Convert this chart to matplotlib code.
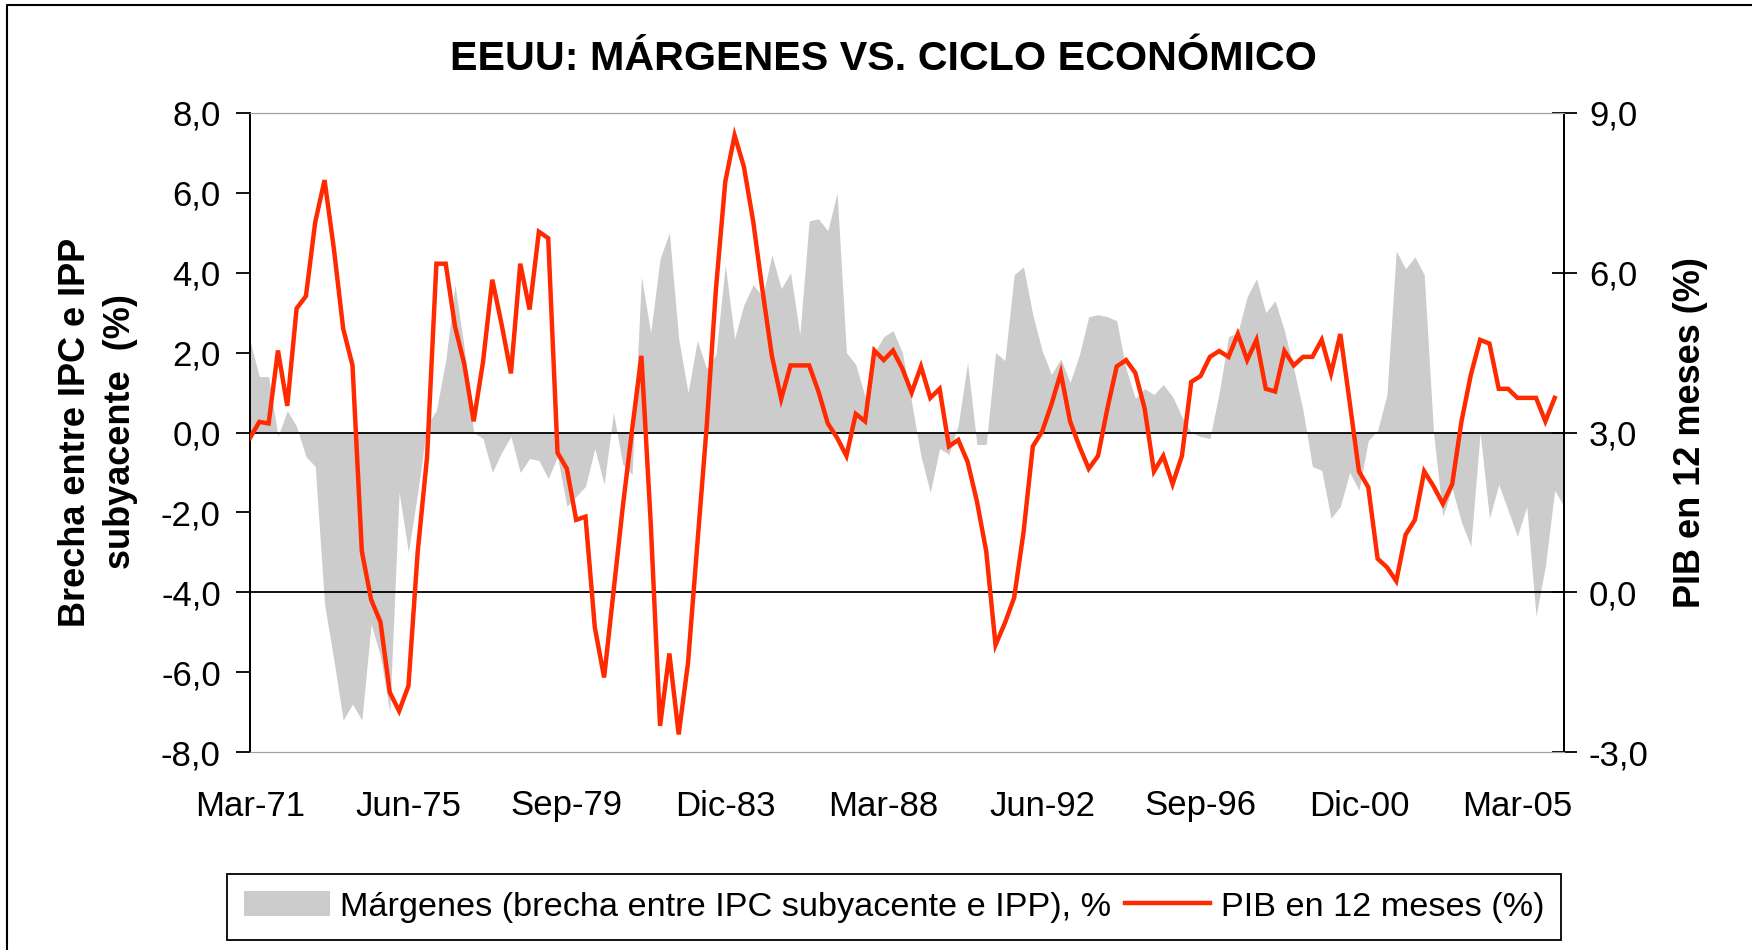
import numpy as np
import pandas as pd
import matplotlib
matplotlib.use("Agg")
import matplotlib.pyplot as plt
from matplotlib.ticker import FuncFormatter, FixedLocator
from matplotlib.lines import Line2D
from matplotlib.patches import Patch

plt.rcParams['font.family'] = ['Liberation Sans', 'DejaVu Sans']

# quarterly categories, Mar-71 .. Jun-06
QUARTERS = pd.period_range('1971Q1', '2006Q2', freq='Q')

# margins: gap between core CPI and PPI (%), left axis
MARGENES = [
    2.3, 1.4, 1.4, -0.1, 0.55, 0.15, -0.6, -0.85, -4.3, -5.7,
    -7.2, -6.8, -7.2, -4.8, -5.6, -7.0, -1.5, -3.0, -1.5, 0.2,
    0.55, 1.8, 3.7, 2.1, 0.0, -0.15, -1.0, -0.5, -0.1, -1.0,
    -0.65, -0.7, -1.15, -0.6, -1.85, -1.6, -1.35, -0.4, -1.3, 0.5,
    -0.8, -1.05, 3.9, 2.5, 4.35, 5.0, 2.35, 1.0, 2.3, 1.6,
    1.95, 4.2, 2.35, 3.2, 3.7, 3.4, 4.45, 3.6, 4.0, 2.45,
    5.3, 5.35, 5.05, 6.0, 2.0, 1.7, 0.9, 2.0, 2.4, 2.55,
    2.0, 0.75, -0.6, -1.5, -0.4, -0.55, 0.2, 1.75, -0.3, -0.3,
    2.0, 1.8, 3.95, 4.15, 2.95, 2.05, 1.45, 1.85, 1.25, 1.95,
    2.9, 2.95, 2.9, 2.8, 1.6, 0.85, 1.1, 0.95, 1.2, 0.9,
    0.4, 0.0, -0.1, -0.15, 1.0, 2.4, 2.5, 3.4, 3.85, 3.0,
    3.3, 2.55, 1.6, 0.55, -0.85, -0.95, -2.15, -1.85, -1.0, -1.45,
    -0.2, 0.05, 0.95, 4.55, 4.1, 4.4, 3.95, 0.0, -2.1, -1.4,
    -2.25, -2.85, 0.0, -2.15, -1.3, -1.95, -2.6, -1.85, -4.6, -3.35,
    -1.45, -1.85,
]

# GDP growth over 12 months (%), right axis (last quarter not yet published)
PIB = [
    2.9, 3.2, 3.17, 4.54, 3.5, 5.33, 5.56, 6.95, 7.74, 6.45,
    4.95, 4.26, 0.77, -0.14, -0.56, -1.88, -2.23, -1.76, 0.77, 2.54,
    6.17, 6.17, 4.99, 4.28, 3.21, 4.32, 5.87, 5.03, 4.11, 6.17,
    5.31, 6.77, 6.65, 2.62, 2.32, 1.36, 1.42, -0.66, -1.6, 0.0,
    1.6, 3.05, 4.44, 1.3, -2.51, -1.15, -2.67, -1.33, 0.9, 3.1,
    5.7, 7.71, 8.58, 7.99, 6.96, 5.66, 4.44, 3.63, 4.26, 4.26,
    4.26, 3.77, 3.17, 2.9, 2.56, 3.35, 3.21, 4.54, 4.36, 4.54,
    4.2, 3.75, 4.24, 3.65, 3.82, 2.74, 2.86, 2.45, 1.71, 0.77,
    -0.99, -0.58, -0.1, 1.12, 2.74, 3.02, 3.53, 4.12, 3.21, 2.74,
    2.32, 2.56, 3.45, 4.24, 4.36, 4.12, 3.45, 2.27, 2.56, 2.03,
    2.56, 3.95, 4.06, 4.42, 4.53, 4.42, 4.85, 4.36, 4.74, 3.82,
    3.77, 4.53, 4.26, 4.42, 4.42, 4.74, 4.11, 4.85, 3.57, 2.27,
    1.97, 0.63, 0.47, 0.21, 1.08, 1.36, 2.27, 1.99, 1.66, 2.03,
    3.21, 4.08, 4.74, 4.67, 3.82, 3.82, 3.65, 3.65, 3.65, 3.21,
    3.65, np.nan,
]

TICK_LABELS = ['Mar-71', 'Jun-75', 'Sep-79', 'Dic-83', 'Mar-88',
               'Jun-92', 'Sep-96', 'Dic-00', 'Mar-05']
TICK_STEP = 17

GRAY = '#cccccc'
RED = '#ff2a00'
W, H = 1752, 950


def comma(v, pos):
    return f'{v:.1f}'.replace('.', ',')


fig = plt.figure(figsize=(W / 100, H / 100), dpi=100)
ax = fig.add_axes([250 / W, 1 - 752 / H, 1314 / W, 639 / H])
x = np.arange(len(QUARTERS))

ax.fill_between(x, 0, MARGENES, color=GRAY, linewidth=0, zorder=1)
ax.axhline(0, color='black', lw=1.3, zorder=2)
ax.axhline(-4, color='black', lw=1.3, zorder=2)
ax.set_xlim(0, len(QUARTERS) - 1)
ax.set_ylim(-8, 8)
ax.yaxis.set_major_locator(FixedLocator(np.arange(-8, 8.1, 2)))
ax.yaxis.set_major_formatter(FuncFormatter(comma))
ax.set_xticks(x[::TICK_STEP][:len(TICK_LABELS)])
ax.set_xticklabels(TICK_LABELS)
ax.tick_params(axis='x', length=0, pad=27, labelsize=25)
ax.tick_params(axis='y', length=10, width=1.3, pad=11, labelsize=25, direction='out')

ax2 = ax.twinx()
ax2.plot(x, PIB, color=RED, lw=3.2, zorder=3, solid_joinstyle='miter')
ax2.set_ylim(-3, 9)
ax2.yaxis.set_major_locator(FixedLocator(np.arange(-3, 9.1, 3)))
ax2.yaxis.set_major_formatter(FuncFormatter(comma))
ax2.tick_params(axis='y', length=18, width=1.3, pad=9, labelsize=25, direction='inout')

for a in (ax, ax2):
    a.spines['top'].set_color('#a0a0a0')
    a.spines['bottom'].set_color('#a0a0a0')
    a.spines['left'].set_color('black')
    a.spines['right'].set_color('black')
    a.spines['left'].set_linewidth(1.3)
    a.spines['right'].set_linewidth(1.3)
    a.set_facecolor('none')

fig.text(883 / W, 1 - 59 / H, 'EEUU: MÁRGENES VS. CICLO ECONÓMICO',
         ha='center', va='center', fontsize=29.7, fontweight='bold')
fig.text(98 / W, 1 - 432 / H, 'Brecha entre IPC e IPP\nsubyacente  (%)',
         ha='center', va='center', rotation=90, fontsize=26,
         fontweight='bold', linespacing=1.35, multialignment='center')
fig.text(1690 / W, 1 - 433 / H, 'PIB en 12 meses (%)',
         ha='center', va='center', rotation=90, fontsize=26, fontweight='bold')

handles = [Patch(facecolor=GRAY, edgecolor='none'),
           Line2D([], [], color=RED, lw=3.2)]
labels = ['Márgenes (brecha entre IPC subyacente e IPP), %', 'PIB en 12 meses (%)']
leg = fig.legend(handles, labels, loc='center', bbox_to_anchor=(894 / W, 1 - 907 / H),
                 ncol=2, fontsize=24.7, frameon=True, fancybox=False,
                 edgecolor='black', framealpha=1, handlelength=2.5,
                 handleheight=0.75, handletextpad=0.3, columnspacing=0.4,
                 borderpad=0.5, borderaxespad=0)
leg.get_frame().set_linewidth(1.3)

# outer chart border (only top and left are visible in the original)
fig.add_artist(Line2D([7 / W, 7 / W, 1], [0, 1 - 5 / H, 1 - 5 / H],
                      transform=fig.transFigure, color='black', lw=1.5))

fig.savefig('out.png', dpi=100, facecolor='white')
